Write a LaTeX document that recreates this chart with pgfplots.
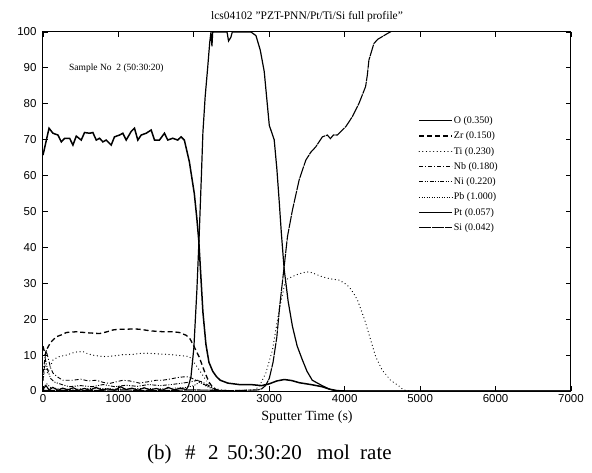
\documentclass[border=0pt]{standalone}
\usepackage{fontspec}
\setmainfont{Liberation Serif}
\newfontfamily\sansf{Liberation Sans}
\usepackage{pgfplots}
\pgfplotsset{compat=1.18}
\begin{document}
\begin{tikzpicture}
\begin{axis}[
 name=ax, at={(0pt,0pt)}, anchor=south west,
 width=528pt, height=359pt, scale only axis,
 xmin=0, xmax=7000, ymin=0, ymax=100,
 xtick={0,1000,...,7000}, ytick={0,10,...,100},
 tick align=inside, xtick pos=both, ytick pos=both,
 major tick length=5pt,
 axis line style={line width=1pt},
 every tick/.style={black, line width=0.8pt},
 tick label style={font=\sansf\fontsize{11.5}{12}\selectfont},
 /pgf/number format/assume math mode=true,
 /pgf/number format/1000 sep={},
 yticklabel style={xshift=-3pt},
 title={lcs04102 \symbol{34}PZT-PNN/Pt/Ti/Si full profile\symbol{34}},
 title style={font=\fontsize{11.5}{13}\selectfont, yshift=1pt},
 xlabel={Sputter Time (s)},
 xlabel style={font=\fontsize{14}{16}\selectfont, yshift=-1pt},
 legend image code/.code={\draw[#1] (0pt,0pt) -- (33pt,0pt);},
 legend style={at={(0.705,0.775)}, anchor=north west, draw=none, fill=none,
   font=\fontsize{10}{11}\selectfont, row sep=3.8pt,
   nodes={inner sep=1pt, text height=7.5pt, text depth=2pt},
   /tikz/every even column/.append style={column sep=2pt}},
 legend cell align=left,
]
% O
\addplot[black, line width=1.5pt] coordinates {
(0,65.7)(80,73.2)(132,71.8)(198,71.3)(243,69.4)(287,70.4)(353,70.4)(397,68.5)(441,71.0)(507,69.9)(551,72.0)(618,71.8)(661,72.0)(706,69.9)(750,70.4)(794,69.4)(838,69.9)(904,68.5)(948,70.8)(1015,71.3)(1058,71.8)(1103,69.9)(1169,72.3)(1213,73.2)(1257,69.9)(1302,71.3)(1368,71.8)(1434,72.7)(1478,69.9)(1544,69.9)(1610,71.8)(1654,69.9)(1720,70.4)(1786,69.9)(1830,70.8)(1874,69.9)(1940,63.9)(2006,55)(2040,48)(2065,42)(2090,33)(2120,22)(2160,13)(2200,8)(2250,5.5)(2300,4)(2350,3)(2450,2.2)(2600,1.8)(2750,1.8)(2900,1.5)(3000,2)(3100,2.8)(3200,3.2)(3300,2.9)(3400,2.3)(3550,1.8)(3700,1.2)(3800,0.5)(3900,0.1)(4000,0)(7000,0)};
\addlegendentry{O (0.350)}
% Zr
\addplot[black, line width=1.3pt, dash pattern=on 5pt off 3pt] coordinates {
(0,12.5)(30,10)(60,12)(100,13.5)(176,15.1)(265,15.8)(309,16.3)(441,16.5)(600,16.2)(750,16)(850,16.5)(926,17)(1000,17.2)(1103,17.2)(1200,17.3)(1280,17.2)(1380,16.9)(1455,16.7)(1600,16.5)(1720,16.5)(1808,16.3)(1900,15.5)(1950,14.5)(2000,12.5)(2070,9.5)(2140,5.5)(2200,2.5)(2250,1)(2300,0.3)(2400,0)};
\addlegendentry{Zr (0.150)}
% Ti
\addplot[black, line width=1.2pt, line cap=round, dash pattern=on 0.1pt off 3.5pt] coordinates {
(0,3)(30,7)(60,5)(132,8.6)(200,9.5)(309,10)(420,10.8)(529,11)(600,10.3)(661,10)(750,9.7)(838,9.6)(950,9.8)(1050,10.1)(1190,10.2)(1300,10.5)(1410,10.5)(1550,10.3)(1650,10.2)(1764,10)(1850,9.8)(1940,9.6)(2000,8)(2073,5.8)(2161,3)(2250,1)(2350,0.3)(2500,0.1)(2800,0.3)(2866,1.2)(2954,5)(3042,11.4)(3131,22.6)(3197,29)(3219,31)(3351,32.3)(3450,33)(3528,33.2)(3620,32.5)(3704,31.8)(3820,31.2)(3925,30.9)(4000,30)(4057,29)(4110,27.5)(4170,25.3)(4265,19.8)(4344,14.2)(4410,9.6)(4497,5.8)(4608,3)(4718,1.4)(4780,0.3)(4850,0)};
\addlegendentry{Ti (0.230)}
% Nb
\addplot[black, line width=0.9pt, dash pattern=on 4pt off 2pt on 1pt off 2pt] coordinates {
(0,5)(40,11.5)(70,9)(100,6.5)(132,5)(200,3.8)(265,3)(397,3)(500,3.3)(600,2.8)(706,3)(800,2.4)(882,2.1)(960,2.5)(1058,3)(1150,2.8)(1279,2.2)(1400,2.6)(1500,3)(1587,3)(1700,3.4)(1800,3.8)(1896,4)(1950,3.8)(2029,3)(2100,2.6)(2160,2)(2250,0.8)(2350,0)};
\addlegendentry{Nb (0.180)}
% Ni
\addplot[black, line width=0.9pt, dash pattern=on 4pt off 1.5pt on 1pt off 1.5pt on 1pt off 1.5pt] coordinates {
(0,3)(30,9)(60,6)(100,3.5)(150,2.5)(250,1.8)(350,1.2)(500,1.5)(650,1.2)(800,1.8)(950,1.2)(1100,1.6)(1250,1.3)(1400,1.8)(1550,1.5)(1700,1.8)(1850,2.2)(1950,2.5)(2050,3)(2120,2)(2200,1.2)(2300,0.3)(2400,0)};
\addlegendentry{Ni (0.220)}
% Pb
\addplot[black, line width=0.8pt, dash pattern=on 1pt off 1.5pt] coordinates {
(0,1)(50,2)(100,1)(200,0.6)(400,0.5)(700,0.8)(1000,0.5)(1300,0.7)(1600,0.6)(1900,1)(2000,1.5)(2080,2.5)(2150,1.5)(2250,0.5)(2350,0)};
\addlegendentry{Pb (1.000)}
% Pt
\addplot[black, line width=1.2pt] coordinates {
(0,0.5)(40,1.5)(80,0.3)(130,1)(200,0.2)(260,0.8)(330,0.3)(400,0.9)(470,0.2)(550,0.7)(620,0.2)(700,1)(780,0.3)(860,0.6)(950,0.2)(1030,1.2)(1100,0.4)(1180,0.8)(1260,0.2)(1340,0.9)(1420,0.3)(1500,0.7)(1580,0.2)(1660,1)(1740,0.3)(1820,0.8)(1900,0.4)(1930,1.5)(1962,4)(2000,12)(2040,28)(2070,43)(2100,60)(2120,72)(2150,82)(2183,90)(2210,97)(2227,100)(2240,96)(2250,100)(2300,100)(2440,100)(2460,97.5)(2490,98.5)(2510,100)(2757,100)(2823,99)(2880,95)(2933,89)(3000,74)(3065,70)(3100,62)(3131,53)(3160,44)(3197,34)(3250,25)(3307,18)(3370,12.5)(3440,8.6)(3500,5.5)(3570,3)(3700,1.5)(3800,0.5)(3900,0)(7000,0)};
\addlegendentry{Pt (0.057)}
% Si
\addplot[black, line width=1.1pt, dash pattern=on 12pt off 0.8pt] coordinates {
(0,0.2)(500,0.1)(1000,0.3)(1500,0.1)(2000,0.3)(2500,0.1)(2850,0.3)(2900,0.6)(2950,1.5)(3000,3.5)(3050,8)(3100,15)(3140,24)(3197,34.6)(3241,43)(3307,50.4)(3396,58.8)(3484,64.3)(3550,66.5)(3616,68)(3704,70.8)(3770,71.3)(3810,70.3)(3850,71.3)(3902,71.3)(3960,72.5)(4013,73.6)(4101,76.4)(4189,80.1)(4277,84.8)(4300,88)(4321,92.2)(4387,96.8)(4440,98)(4497,98.7)(4560,99.5)(4630,100.3)(4700,100.5)};
\addlegendentry{Si (0.042)}
\node[anchor=west, font=\fontsize{9.5}{11}\selectfont] at (axis cs:300,90) {Sample No\ \ 2 (50:30:20)};
\end{axis}
\node[anchor=west, inner sep=0pt, font=\fontsize{21}{24}\selectfont] at (104pt,-63pt) {\makebox[38pt][l]{(b)}\makebox[23pt][l]{\#}\makebox[19pt][l]{2}\makebox[90pt][l]{50:30:20}\makebox[43pt][l]{mol}rate};
\path (-43pt,-81pt) rectangle (549pt,391pt);
\end{tikzpicture}
\end{document}
